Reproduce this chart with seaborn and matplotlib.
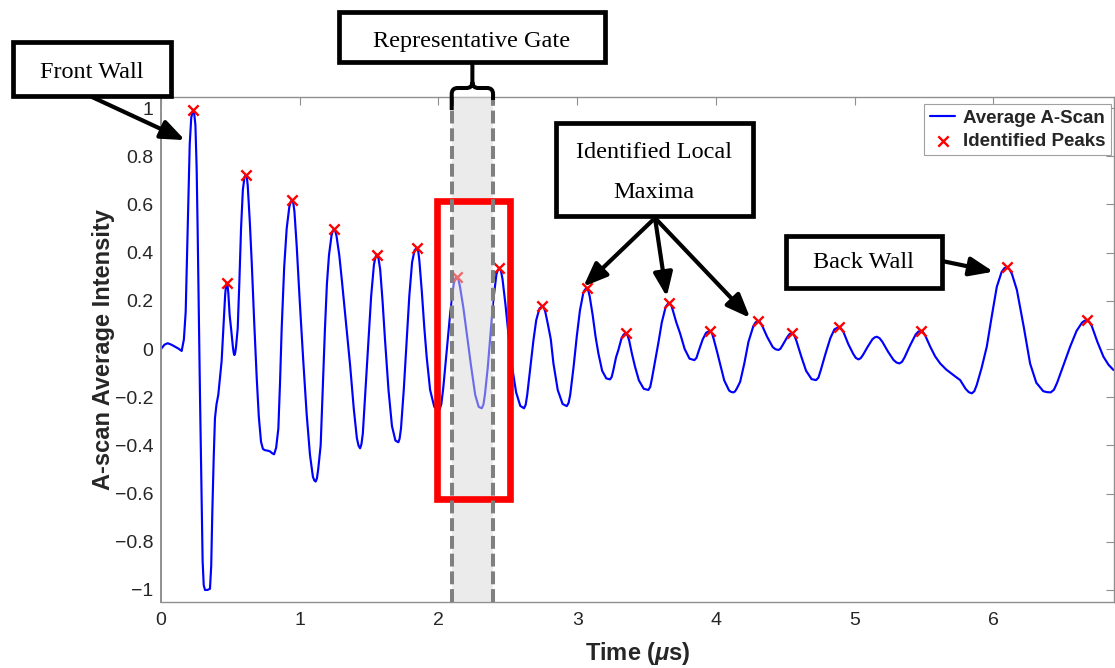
import matplotlib
matplotlib.use("Agg")
import matplotlib.pyplot as plt
from matplotlib.patches import Rectangle, PathPatch
from matplotlib.path import Path
import pandas as pd
import seaborn as sns

# ---------------------------------------------------------------- data
time_us = [
    0.000, 0.025, 0.048, 0.075, 0.100, 0.125, 0.149, 0.165, 0.178, 0.188,
    0.197, 0.207, 0.218, 0.228, 0.233, 0.238, 0.248, 0.257, 0.264, 0.272,
    0.281, 0.290, 0.300, 0.308, 0.317, 0.335, 0.353, 0.362, 0.370, 0.380,
    0.389, 0.400, 0.413, 0.425, 0.437, 0.450, 0.462, 0.468, 0.474, 0.480,
    0.485, 0.495, 0.505, 0.518, 0.524, 0.529, 0.535, 0.541, 0.553, 0.565,
    0.577, 0.590, 0.602, 0.613, 0.619, 0.625, 0.640, 0.654, 0.672, 0.690,
    0.705, 0.721, 0.735, 0.750, 0.770, 0.786, 0.800, 0.815, 0.830, 0.846,
    0.858, 0.870, 0.888, 0.906, 0.925, 0.935, 0.945, 0.954, 0.962, 0.978,
    1.000, 1.026, 1.050, 1.074, 1.095, 1.105, 1.115, 1.124, 1.133, 1.151,
    1.166, 1.182, 1.196, 1.211, 1.229, 1.238, 1.247, 1.256, 1.265, 1.285,
    1.303, 1.333, 1.363, 1.390, 1.412, 1.424, 1.435, 1.445, 1.455, 1.475,
    1.495, 1.515, 1.535, 1.546, 1.557, 1.568, 1.580, 1.597, 1.615, 1.640,
    1.665, 1.690, 1.711, 1.720, 1.730, 1.750, 1.771, 1.790, 1.810, 1.828,
    1.845, 1.854, 1.862, 1.880, 1.898, 1.915, 1.940, 1.970, 1.988, 2.007,
    2.021, 2.035, 2.060, 2.085, 2.110, 2.121, 2.132, 2.144, 2.155, 2.180,
    2.204, 2.235, 2.265, 2.290, 2.312, 2.324, 2.335, 2.355, 2.372, 2.395,
    2.418, 2.429, 2.440, 2.451, 2.462, 2.484, 2.504, 2.530, 2.560, 2.590,
    2.617, 2.629, 2.640, 2.662, 2.685, 2.705, 2.728, 2.750, 2.760, 2.770,
    2.790, 2.810, 2.829, 2.860, 2.895, 2.925, 2.938, 2.950, 2.975, 2.997,
    3.020, 3.045, 3.057, 3.069, 3.080, 3.090, 3.112, 3.133, 3.153, 3.180,
    3.210, 3.237, 3.249, 3.260, 3.280, 3.297, 3.320, 3.335, 3.350, 3.363,
    3.375, 3.395, 3.417, 3.445, 3.480, 3.513, 3.527, 3.540, 3.562, 3.585,
    3.610, 3.638, 3.652, 3.665, 3.678, 3.690, 3.715, 3.742, 3.775, 3.810,
    3.845, 3.860, 3.875, 3.905, 3.930, 3.958, 3.972, 3.985, 4.008, 4.030,
    4.060, 4.095, 4.110, 4.126, 4.138, 4.150, 4.175, 4.205, 4.235, 4.270,
    4.287, 4.303, 4.319, 4.335, 4.370, 4.410, 4.430, 4.451, 4.465, 4.480,
    4.515, 4.531, 4.547, 4.564, 4.580, 4.615, 4.650, 4.690, 4.722, 4.739,
    4.755, 4.790, 4.825, 4.855, 4.886, 4.903, 4.920, 4.955, 4.990, 5.009,
    5.028, 5.044, 5.060, 5.095, 5.128, 5.144, 5.160, 5.180, 5.200, 5.240,
    5.280, 5.302, 5.323, 5.342, 5.360, 5.400, 5.440, 5.459, 5.477, 5.494,
    5.510, 5.545, 5.580, 5.617, 5.660, 5.712, 5.761, 5.800, 5.823, 5.845,
    5.863, 5.880, 5.915, 5.953, 5.990, 6.025, 6.060, 6.079, 6.097, 6.116,
    6.135, 6.170, 6.220, 6.265, 6.310, 6.360, 6.387, 6.414, 6.437, 6.460,
    6.510, 6.554, 6.600, 6.640, 6.657, 6.674, 6.692, 6.710, 6.750, 6.794,
    6.830, 6.866,
]
amplitude = [
    0.000, 0.018, 0.024, 0.018, 0.010, 0.002, -0.008, 0.040, 0.155, 0.400,
    0.640, 0.850, 0.960, 0.985, 0.992, 0.985, 0.930, 0.750, 0.500, 0.170,
    -0.190, -0.520, -0.880, -0.980, -1.000, -1.000, -0.995, -0.900, -0.675, -0.450,
    -0.287, -0.230, -0.190, -0.120, -0.050, 0.090, 0.220, 0.262, 0.275, 0.262,
    0.235, 0.140, 0.086, 0.010, -0.016, -0.025, -0.016, 0.010, 0.086, 0.280,
    0.500, 0.660, 0.715, 0.722, 0.712, 0.680, 0.530, 0.360, 0.110, -0.120,
    -0.280, -0.385, -0.415, -0.420, -0.422, -0.425, -0.432, -0.437, -0.410, -0.330,
    -0.140, 0.086, 0.340, 0.500, 0.590, 0.611, 0.618, 0.605, 0.570, 0.430,
    0.200, -0.053, -0.270, -0.440, -0.530, -0.545, -0.550, -0.537, -0.500, -0.400,
    -0.170, 0.086, 0.270, 0.390, 0.470, 0.490, 0.497, 0.490, 0.470, 0.390,
    0.290, 0.110, -0.066, -0.250, -0.370, -0.401, -0.412, -0.395, -0.350, -0.160,
    0.037, 0.220, 0.350, 0.381, 0.392, 0.376, 0.330, 0.200, 0.037, -0.170,
    -0.320, -0.380, -0.387, -0.372, -0.330, -0.170, 0.037, 0.220, 0.360, 0.410,
    0.420, 0.407, 0.370, 0.240, 0.090, -0.032, -0.170, -0.240, -0.250, -0.253,
    -0.228, -0.160, -0.004, 0.150, 0.270, 0.292, 0.300, 0.289, 0.260, 0.170,
    0.065, -0.070, -0.190, -0.240, -0.246, -0.231, -0.190, -0.080, 0.037, 0.200,
    0.310, 0.328, 0.335, 0.323, 0.290, 0.180, 0.065, -0.070, -0.180, -0.236,
    -0.246, -0.231, -0.190, -0.080, 0.037, 0.120, 0.168, 0.178, 0.172, 0.155,
    0.100, 0.040, -0.060, -0.170, -0.228, -0.237, -0.224, -0.190, -0.070, 0.051,
    0.160, 0.235, 0.247, 0.252, 0.243, 0.220, 0.140, 0.050, -0.018, -0.090,
    -0.122, -0.126, -0.116, -0.090, -0.035, -0.004, 0.045, 0.060, 0.065, 0.057,
    0.035, -0.020, -0.073, -0.130, -0.165, -0.170, -0.157, -0.120, -0.050, 0.024,
    0.110, 0.175, 0.186, 0.190, 0.182, 0.160, 0.110, 0.065, 0.000, -0.040,
    -0.046, -0.037, -0.010, 0.040, 0.068, 0.075, 0.066, 0.040, -0.010, -0.060,
    -0.130, -0.172, -0.178, -0.180, -0.176, -0.165, -0.136, -0.060, 0.030, 0.095,
    0.111, 0.117, 0.111, 0.095, 0.050, 0.008, -0.001, -0.004, 0.001, 0.015,
    0.050, 0.062, 0.066, 0.058, 0.035, -0.030, -0.090, -0.125, -0.129, -0.119,
    -0.090, -0.020, 0.045, 0.082, 0.091, 0.085, 0.070, 0.020, -0.020, -0.037,
    -0.043, -0.038, -0.025, 0.010, 0.040, 0.048, 0.051, 0.045, 0.030, -0.010,
    -0.045, -0.056, -0.060, -0.053, -0.035, 0.015, 0.060, 0.072, 0.076, 0.070,
    0.055, 0.010, -0.030, -0.060, -0.085, -0.108, -0.129, -0.165, -0.179, -0.184,
    -0.175, -0.150, -0.080, 0.010, 0.140, 0.258, 0.320, 0.335, 0.340, 0.332,
    0.310, 0.245, 0.090, -0.060, -0.140, -0.175, -0.179, -0.180, -0.169, -0.140,
    -0.060, 0.010, 0.075, 0.110, 0.117, 0.120, 0.113, 0.095, 0.030, -0.032,
    -0.065, -0.087,
]
peak_times = [0.233, 0.474, 0.613, 0.945, 1.247, 1.557, 1.845, 2.132, 2.440, 2.750,
              3.069, 3.350, 3.665, 3.958, 4.303, 4.547, 4.886, 5.477, 6.097, 6.674]

x_ticks = [0, 1, 2, 3, 4, 5, 6]
x_tick_labels = ["0", "1", "2", "3", "4", "5", "6"]
y_ticks = [-1.0, -0.8, -0.6, -0.4, -0.2, 0.0, 0.2, 0.4, 0.6, 0.8, 1.0]
y_tick_labels = ["\u22121", "\u22120.8", "\u22120.6", "\u22120.4", "\u22120.2", "0",
                 "0.2", "0.4", "0.6", "0.8", "1"]

gate_window = (2.096, 2.394)          # representative gate, in µs
highlight_t = (1.988, 2.516)          # red highlight box, time range
highlight_y = (-0.622, 0.615)         # red highlight box, amplitude range

# callout arrow targets (time, amplitude)
front_wall_tip = (0.173, 0.867)
local_max_tips = [(3.045, 0.259), (3.646, 0.217), (4.247, 0.129)]
back_wall_tip = (6.001, 0.321)

# ---------------------------------------------------------------- style
sns.set_theme(style="white")
plt.rcParams["font.family"] = ["Liberation Sans", "DejaVu Sans"]
plt.rcParams["mathtext.fontset"] = "custom"
plt.rcParams["mathtext.rm"] = "Liberation Sans:bold"
plt.rcParams["mathtext.it"] = "Liberation Sans:italic:bold"

W, H = 1115, 668
fig = plt.figure(figsize=(W / 100, H / 100), dpi=100)
fig.patch.set_facecolor("white")


def fpt(px, py):
    """Pixel position (origin top-left) to figure fraction."""
    return (px / W, 1 - py / H)


ax = fig.add_axes([161 / W, 1 - 602 / H, (1114 - 161) / W, (602 - 97) / H])
ax.set_facecolor("white")

df = pd.DataFrame({"time": time_us, "amp": amplitude})
amp_at = dict(zip(time_us, amplitude))
peaks = pd.DataFrame({"time": peak_times, "amp": [amp_at[t] for t in peak_times]})

sns.lineplot(data=df, x="time", y="amp", ax=ax, color="#0000ff", lw=1.55,
             sort=False, estimator=None, label="Average A-Scan", zorder=2)
sns.scatterplot(data=peaks, x="time", y="amp", ax=ax, marker="x", color="#ff0000",
                s=55, linewidth=1.7, label="Identified Peaks", zorder=3)

# gate shading, highlight box and gate edges
ax.axvspan(*gate_window, color="#d9d9d9", alpha=0.5, lw=0, zorder=4)
ax.add_patch(Rectangle((highlight_t[0], highlight_y[0]),
                       highlight_t[1] - highlight_t[0],
                       highlight_y[1] - highlight_y[0],
                       fill=False, ec="#ff0000", lw=4.8, joinstyle="miter", zorder=5))
for edge in gate_window:
    ax.axvline(edge, color="#808080", lw=2.9, ls=(0, (3.2, 1.2)), zorder=6)

ax.set_xlim(0, 6.87)
ax.set_ylim(-1.05, 1.046)
ax.set_xticks(x_ticks)
ax.set_xticklabels(x_tick_labels)
ax.set_yticks(y_ticks)
ax.set_yticklabels(y_tick_labels)
ax.tick_params(direction="in", length=5.8, width=0.8, color="#8f8f8f",
               labelsize=14, labelcolor="#262626", top=True, right=True)
ax.tick_params(axis="x", pad=7)
ax.tick_params(axis="y", pad=5.5)
for s in ax.spines.values():
    s.set_color("#8f8f8f")
    s.set_linewidth(1.0)
ax.spines["left"].set_linewidth(1.4)

ax.set_xlabel(r"Time ($\mu$s)", fontsize=17, fontweight="bold", color="#262626",
              labelpad=8)
ax.set_ylabel("A-scan Average Intensity", fontsize=17, fontweight="bold",
              color="#262626", labelpad=0)

leg = ax.legend(loc="upper right", bbox_to_anchor=fpt(1111, 104),
                bbox_transform=fig.transFigure, frameon=True, fancybox=False,
                edgecolor="#a0a0a0", framealpha=1,
                prop={"weight": "bold", "size": 13.5}, handlelength=1.35,
                handletextpad=0.4, borderpad=0.3, labelspacing=0.3,
                borderaxespad=0)
leg.get_frame().set_linewidth(0.8)

# ---------------------------------------------------------------- callouts
serif = dict(family=["Liberation Serif", "DejaVu Serif"], size=17.5, color="black")


def callout_box(left, top, right, bottom):
    x0, y0 = fpt(left, bottom)
    x1, y1 = fpt(right, top)
    fig.add_artist(Rectangle((x0, y0), x1 - x0, y1 - y0, transform=fig.transFigure,
                             fc="white", ec="black", lw=3.4, joinstyle="miter",
                             zorder=10))


def callout_text(px, py, s):
    fig.text(*fpt(px, py), s, ha="center", va="center", zorder=11, **serif)


arrow = dict(arrowstyle="-|>,head_length=0.8,head_width=0.32", lw=3, color="black",
             mutation_scale=18, shrinkA=0, shrinkB=0)


def callout_arrow(start_px, tip):
    ax.annotate("", xy=tip, xycoords="data",
                xytext=(start_px[0], H - start_px[1]), textcoords="figure pixels",
                arrowprops=arrow, annotation_clip=False, zorder=9)


# Front wall
callout_arrow((92, 97), front_wall_tip)
callout_box(12.5, 42, 171, 96)
callout_text(92, 72, "Front Wall")

# Representative gate with brace
callout_box(339, 12, 605, 62)
callout_text(472, 41, "Representative Gate")
gl = 161 + gate_window[0] * 138.7
gr = 161 + gate_window[1] * 138.7
gm = 0.5 * (gl + gr)
brace_pts = [
    (gl, 110), (gl, 94), (gl, 88), (gl + 6, 88), (gm - 6, 88), (gm, 88), (gm, 82),
    (gm, 63),
    (gm, 82), (gm, 88), (gm + 6, 88), (gr - 6, 88), (gr, 88), (gr, 94), (gr, 100),
]
codes = [Path.MOVETO, Path.LINETO, Path.CURVE3, Path.CURVE3, Path.LINETO,
         Path.CURVE3, Path.CURVE3, Path.LINETO,
         Path.MOVETO, Path.CURVE3, Path.CURVE3, Path.LINETO, Path.CURVE3,
         Path.CURVE3, Path.LINETO]
brace = Path([fpt(*p) for p in brace_pts], codes)
fig.add_artist(PathPatch(brace, transform=fig.transFigure, fill=False, ec="black",
                         lw=2.9, capstyle="butt", joinstyle="round", zorder=10))

# Identified local maxima
for tip in local_max_tips:
    callout_arrow((655, 218), tip)
callout_box(555.5, 122.5, 752.5, 215.5)
callout_text(654, 152, "Identified Local")
callout_text(654, 193, "Maxima")

# Back wall
callout_arrow((942, 261), back_wall_tip)
callout_box(785.5, 235.5, 941.5, 287.5)
callout_text(863, 263, "Back Wall")

fig.savefig("out.png", dpi=100, facecolor="white")
